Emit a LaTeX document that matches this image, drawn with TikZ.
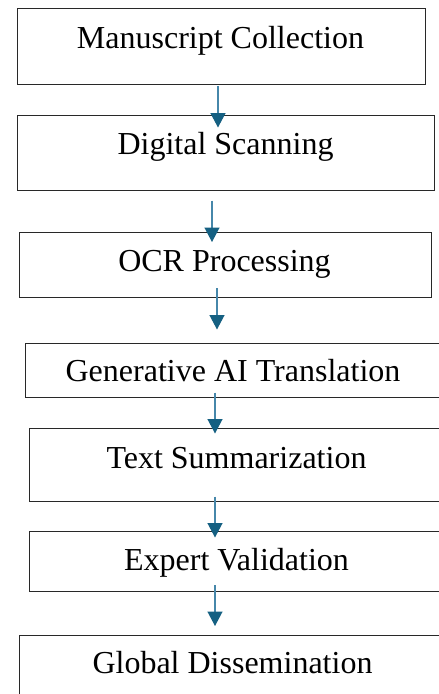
\documentclass[tikz,border=0pt]{standalone}
\usepackage{fontspec}
\setmainfont{Liberation Serif}
\usetikzlibrary{arrows.meta}
\definecolor{arrowline}{RGB}{70,135,170}
\definecolor{arrowhead}{RGB}{21,96,130}
\definecolor{boxline}{RGB}{40,40,40}
\tikzset{
  stepbox/.style={draw=boxline, line width=1pt, rectangle, inner sep=0pt, anchor=north west},
  label/.style={anchor=base, inner sep=0pt, font=\fontsize{32}{38}\selectfont},
  flow/.style={draw=arrowline, line width=1.3pt, -{Triangle[width=15pt,length=14.5pt,color=arrowhead,fill=arrowhead]}}
}
\begin{document}
\begin{tikzpicture}[x=1pt,y=-1pt]
\useasboundingbox (0,0) rectangle (439,694);
\clip (0,0) rectangle (439,694);
\fill[white] (0,0) rectangle (439,694);
% boxes
\node[stepbox, minimum width=408pt, minimum height=76pt] (b1) at (17,8) {};
\node[stepbox, minimum width=417pt, minimum height=75pt] (b2) at (17,115) {};
\node[stepbox, minimum width=412pt, minimum height=64.5pt] (b3) at (19,232.3) {};
\node[stepbox, minimum width=440pt, minimum height=54pt] (b4) at (25,342.6) {};
\node[stepbox, minimum width=440pt, minimum height=72.2pt] (b5) at (29,428.4) {};
\node[stepbox, minimum width=440pt, minimum height=60pt] (b6) at (29,530.7) {};
\node[stepbox, minimum width=440pt, minimum height=80pt] (b7) at (19,635) {};
% labels
\node[label] (t1) at (220.5,48.5) {Manuscript Collection};
\node[label] (t2) at (225.5,154) {Digital Scanning};
\node[label] (t3) at (224.5,271.5) {OCR Processing};
\node[label] (t4) at (233,381.5) {Generative AI Translation};
\node[label] (t5) at (236.5,468) {Text Summarization};
\node[label] (t6) at (236.5,570) {Expert Validation};
\node[label] (t7) at (232.5,673) {Global Dissemination};
% arrow end points
\coordinate (a1s) at (218,86);  \coordinate (a1e) at (218,127.5);
\coordinate (a2s) at (212,200.5); \coordinate (a2e) at (212,242);
\coordinate (a3s) at (217,288); \coordinate (a3e) at (217,329.5);
\coordinate (a4s) at (215,392.5); \coordinate (a4e) at (215,433.5);
\coordinate (a5s) at (215,496.5); \coordinate (a5e) at (215,537.5);
\coordinate (a6s) at (215,585); \coordinate (a6e) at (215,626);
\draw[flow] (a1s) -- (a1e);
\draw[flow] (a2s) -- (a2e);
\draw[flow] (a3s) -- (a3e);
\draw[flow] (a4s) -- (a4e);
\draw[flow] (a5s) -- (a5e);
\draw[flow] (a6s) -- (a6e);
\end{tikzpicture}
\end{document}
